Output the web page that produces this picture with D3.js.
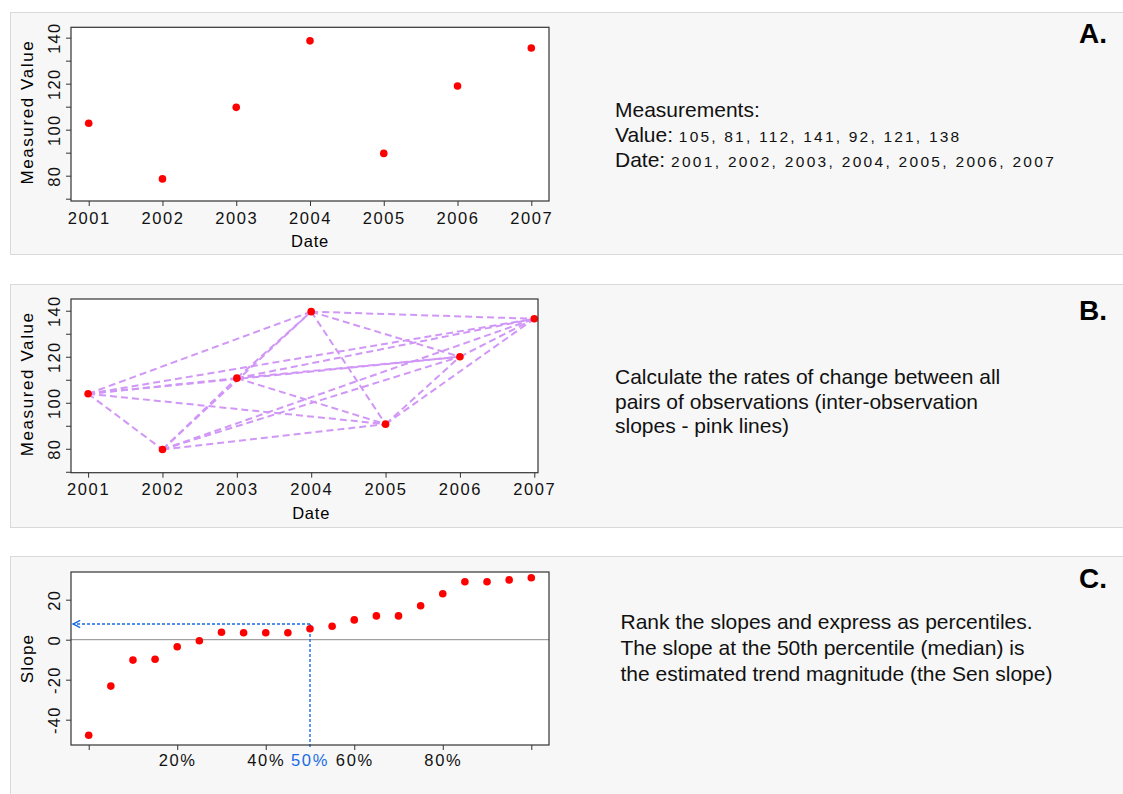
<!DOCTYPE html>
<html>
<head>
<meta charset="utf-8">
<script src="https://cdn.jsdelivr.net/npm/d3@7"></script>
<style>
  body { margin: 0; background: #ffffff; }
  svg { font-family: "Liberation Sans", Arial, sans-serif; }
</style>
</head>
<body>
<div id="chart"></div>
<script>
// values
const dates = [2001, 2002, 2003, 2004, 2005, 2006, 2007];
const valuesA = [102.8, 78.6, 109.7, 138.6, 89.7, 119, 135.5];
const valuesB = [103.9, 79.7, 110.7, 139.6, 90.7, 120, 136.5];
const valueTicks = [70, 80, 90, 100, 110, 120, 130, 140];

const percentiles = [0, 5, 10, 15, 20, 25, 30, 35, 40, 45, 50, 55, 60, 65, 70, 75, 80, 85, 90, 95, 100];
const slopes = [-47.8, -23.2, -10.2, -9.8, -3.5, -0.5, 3.7, 3.5, 3.5, 3.5, 5.5, 6.7, 9.9, 11.9, 11.9, 17, 23, 29, 29, 29.9, 31];
const slopeTicks = [-40, -20, 0, 20];
const percentTicks = [0, 20, 40, 60, 80, 100];
const percentLabels = [20, 40, 60, 80];
const medianPercent = 50;
const senSlope = 7.85;

const textA = ["Measurements:"];
const valueText = "105, 81, 112, 141, 92, 121, 138";
const dateText = "2001, 2002, 2003, 2004, 2005, 2006, 2007";
const textB = ["Calculate the rates of change between all", "pairs of observations (inter-observation", "slopes - pink lines)"];
const textC = ["Rank the slopes and express as percentiles.", "The slope at the 50th percentile (median) is", "the estimated trend magnitude (the Sen slope)"];

const W = 1123, H = 794;
const svg = d3.select('#chart').append('svg')
    .attr('width', W).attr('height', H);

// panel backgrounds
const panels = [
    {y: 12, h: 242, letter: 'A.', ly: 43},
    {y: 284, h: 243, letter: 'B.', ly: 320},
    {y: 556, h: 260, letter: 'C.', ly: 588}
];
panels.forEach(p => {
    svg.append('rect')
        .attr('x', 10.5).attr('y', p.y + 0.5)
        .attr('width', W).attr('height', p.h)
        .attr('fill', '#f7f7f7').attr('stroke', '#d9d9d9');
    svg.append('text')
        .attr('x', 1107).attr('y', p.ly)
        .attr('text-anchor', 'end')
        .attr('font-size', 28).attr('font-weight', 'bold')
        .text(p.letter);
});

function frame(g, w, h) {
    g.append('rect')
        .attr('width', w).attr('height', h)
        .attr('fill', '#ffffff');
}
function frameBorder(g, w, h) {
    g.append('rect')
        .attr('width', w).attr('height', h)
        .attr('fill', 'none').attr('stroke', '#333').attr('stroke-width', 1.2);
}

function styleYAxis(ax) {
    ax.select('.domain').remove();
    ax.selectAll('line').attr('stroke', '#333');
    ax.selectAll('text')
        .attr('transform', 'rotate(-90)')
        .attr('x', 0).attr('y', -11).attr('dy', 0)
        .attr('text-anchor', 'middle')
        .attr('font-size', 16.5).attr('letter-spacing', 1.3)
        .attr('fill', '#111');
}
function styleXAxis(ax, ty) {
    ax.select('.domain').remove();
    ax.selectAll('line').attr('stroke', '#333');
    ax.selectAll('text')
        .attr('y', ty)
        .attr('font-size', 16.5).attr('letter-spacing', 1.6)
        .attr('fill', '#111');
}

function scatterPanel(top, w, h, xDomain, yDomain, values, withLines) {
    const g = svg.append('g').attr('transform', `translate(71, ${top})`);
    const x = d3.scaleLinear().domain(xDomain).range([0, w]);
    const y = d3.scaleLinear().domain(yDomain).range([h, 0]);
    frame(g, w, h);

    if (withLines) {
        const pairs = [];
        for (let i = 0; i < dates.length; i++)
            for (let j = i + 1; j < dates.length; j++) pairs.push([i, j]);
        g.selectAll('.pair')
            .data(pairs)
            .enter()
            .append('line')
            .attr('x1', d => x(dates[d[0]])).attr('y1', d => y(values[d[0]]))
            .attr('x2', d => x(dates[d[1]])).attr('y2', d => y(values[d[1]]))
            .attr('stroke', '#d197f7')
            .attr('stroke-width', 2)
            .attr('stroke-dasharray', '7,4');
    }

    g.selectAll('circle')
        .data(dates)
        .enter()
        .append('circle')
        .attr('cx', d => x(d))
        .attr('cy', (d, i) => y(values[i]))
        .attr('r', 3.8)
        .attr('fill', '#ff0000');

    frameBorder(g, w, h);

    const yAxis = d3.axisLeft(y)
        .tickValues(valueTicks)
        .tickSize(5)
        .tickFormat(d => d % 20 === 0 ? String(d) : '');
    styleYAxis(g.append('g').call(yAxis));

    const xAxis = d3.axisBottom(x)
        .tickValues(dates)
        .tickSize(5)
        .tickFormat(d => String(d));
    styleXAxis(g.append('g').attr('transform', `translate(0, ${h})`).call(xAxis), 11);

    g.append('text')
        .attr('x', x(2004)).attr('y', h + 46)
        .attr('text-anchor', 'middle')
        .attr('font-size', 16.5).attr('letter-spacing', 0.8)
        .text('Date');
    g.append('text')
        .attr('transform', `translate(-38, ${h / 2 - 2}) rotate(-90)`)
        .attr('text-anchor', 'middle')
        .attr('font-size', 17).attr('letter-spacing', 1.6)
        .text('Measured Value');
}

// panel A
scatterPanel(27.3, 478, 173.7, [2000.76, 2007.24], [69, 144.5], valuesA, false);
// panel B
scatterPanel(299, 467, 173.7, [2000.77, 2007.05], [69.6, 145.1], valuesB, true);

// panel C
{
    const w = 478, h = 173;
    const g = svg.append('g').attr('transform', `translate(71, 572)`);
    const x = d3.scaleLinear().domain([-4, 104]).range([0, w]);
    const y = d3.scaleLinear().domain([-52.65, 33.85]).range([h, 0]);
    frame(g, w, h);

    g.append('line')
        .attr('x1', 0).attr('x2', w)
        .attr('y1', y(0)).attr('y2', y(0))
        .attr('stroke', '#8c8c8c').attr('stroke-width', 1);

    svg.append('defs').append('marker')
        .attr('id', 'arrow')
        .attr('viewBox', '0 0 10 10')
        .attr('refX', 9).attr('refY', 5)
        .attr('markerWidth', 9).attr('markerHeight', 9)
        .attr('markerUnits', 'userSpaceOnUse')
        .attr('orient', 'auto')
        .append('path')
        .attr('d', 'M1,1 L9,5 L1,9')
        .attr('fill', 'none')
        .attr('stroke', '#1a6be6')
        .attr('stroke-width', 1.6);

    g.append('line')
        .attr('x1', x(medianPercent)).attr('y1', y(senSlope))
        .attr('x2', 2).attr('y2', y(senSlope))
        .attr('stroke', '#1a6be6').attr('stroke-width', 1.4)
        .attr('stroke-dasharray', '3,2')
        .attr('marker-end', 'url(#arrow)');
    g.append('line')
        .attr('x1', x(medianPercent)).attr('y1', y(senSlope))
        .attr('x2', x(medianPercent)).attr('y2', h + 2)
        .attr('stroke', '#1a6be6').attr('stroke-width', 1.4)
        .attr('stroke-dasharray', '3,2');

    g.selectAll('circle')
        .data(slopes)
        .enter()
        .append('circle')
        .attr('cx', (d, i) => x(percentiles[i]))
        .attr('cy', d => y(d))
        .attr('r', 3.8)
        .attr('fill', '#ff0000');

    frameBorder(g, w, h);

    const yAxis = d3.axisLeft(y).tickValues(slopeTicks).tickSize(5)
        .tickFormat(d => String(d));
    styleYAxis(g.append('g').call(yAxis));

    const xAxis = d3.axisBottom(x)
        .tickValues(percentTicks)
        .tickSize(5)
        .tickFormat(d => percentLabels.includes(d) ? d + '%' : '');
    styleXAxis(g.append('g').attr('transform', `translate(0, ${h})`).call(xAxis), 9);

    g.append('text')
        .attr('x', x(medianPercent)).attr('y', h + 9)
        .attr('dy', '0.71em')
        .attr('text-anchor', 'middle')
        .attr('font-size', 16.5).attr('letter-spacing', 1.6)
        .attr('fill', '#1a6be6')
        .text(medianPercent + '%');

    g.append('text')
        .attr('transform', `translate(-38, ${h / 2}) rotate(-90)`)
        .attr('text-anchor', 'middle')
        .attr('font-size', 17).attr('letter-spacing', 1.2)
        .text('Slope');
}

// explanatory texts
const tA = svg.append('g').attr('font-size', 21).attr('fill', '#111');
tA.append('text').attr('x', 615).attr('y', 116.7).text(textA[0]);
const v = tA.append('text').attr('x', 615).attr('y', 141.7);
v.append('tspan').text('Value: ');
v.append('tspan').attr('font-size', 15.5).attr('letter-spacing', 2.2).text(valueText);
const dt = tA.append('text').attr('x', 615).attr('y', 166.7);
dt.append('tspan').text('Date: ');
dt.append('tspan').attr('font-size', 15.5).attr('letter-spacing', 2.3).text(dateText);

svg.append('g').attr('font-size', 21).attr('fill', '#111')
    .selectAll('text')
    .data(textB)
    .enter()
    .append('text')
    .attr('x', 615)
    .attr('y', (d, i) => 384.3 + i * 24.5)
    .text(d => d);

svg.append('g').attr('font-size', 21).attr('fill', '#111')
    .selectAll('text')
    .data(textC)
    .enter()
    .append('text')
    .attr('x', 620.5)
    .attr('y', (d, i) => 629.3 + i * 25.7)
    .text(d => d);
</script>
</body>
</html>
